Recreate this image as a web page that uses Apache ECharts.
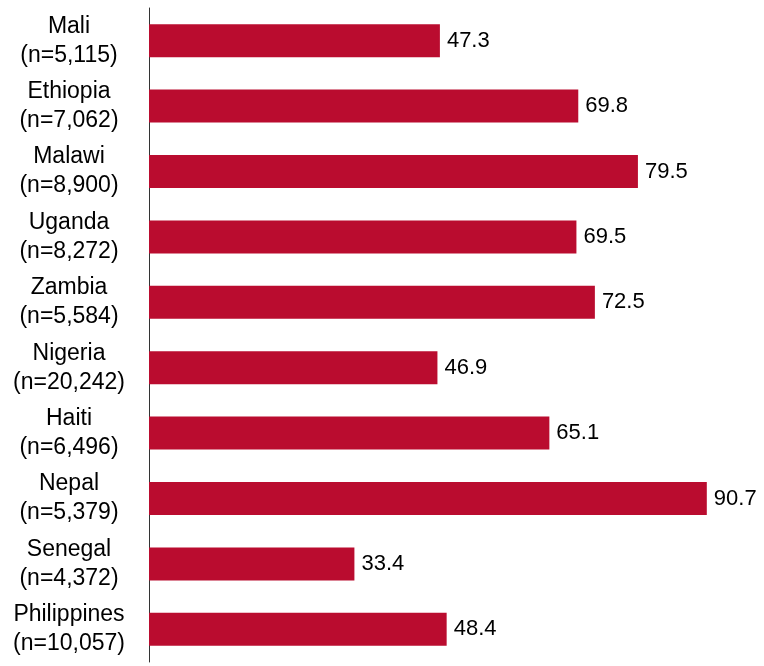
<!DOCTYPE html>
<html><head><meta charset="utf-8">
<script src="https://cdn.jsdelivr.net/npm/echarts@6/dist/echarts.min.js"></script>
<style>html,body{margin:0;padding:0;background:#fff}#c{width:764px;height:666px}</style>
</head><body><div id="c"></div>
<script>
var countries = ['Mali','Ethiopia','Malawi','Uganda','Zambia','Nigeria','Haiti','Nepal','Senegal','Philippines'];
var sampleSizes = ['5,115','7,062','8,900','8,272','5,584','20,242','6,496','5,379','4,372','10,057'];
var values = [47.3, 69.8, 79.5, 69.5, 72.5, 46.9, 65.1, 90.7, 33.4, 48.4];

var cats = countries.map(function(c, i){ return c + '\n(n=' + sampleSizes[i] + ')'; });
var chart = echarts.init(document.getElementById('c'));
chart.setOption({
  backgroundColor: '#fff',
  animation: false,
  grid: { left: 149, right: 0, top: 8, bottom: 4 },
  xAxis: { type: 'value', min: 0, max: 100, show: false },
  yAxis: {
    type: 'category', inverse: true, data: cats,
    axisLine: { lineStyle: { color: '#333', width: 1 } },
    axisTick: { show: false },
    axisLabel: { color: '#000', fontSize: 23, fontFamily: 'Liberation Sans, Arial', lineHeight: 29, align: 'center', margin: 80, padding: [0, 0, 6, 0] }
  },
  series: [{
    type: 'bar', data: values, barWidth: 33,
    itemStyle: { color: '#BA0C2F' },
    label: { show: true, position: 'right', distance: 7, color: '#000', fontSize: 22, fontFamily: 'Liberation Sans, Arial', formatter: function(p){ return p.value.toFixed(1); } }
  }]
});
</script></body></html>
